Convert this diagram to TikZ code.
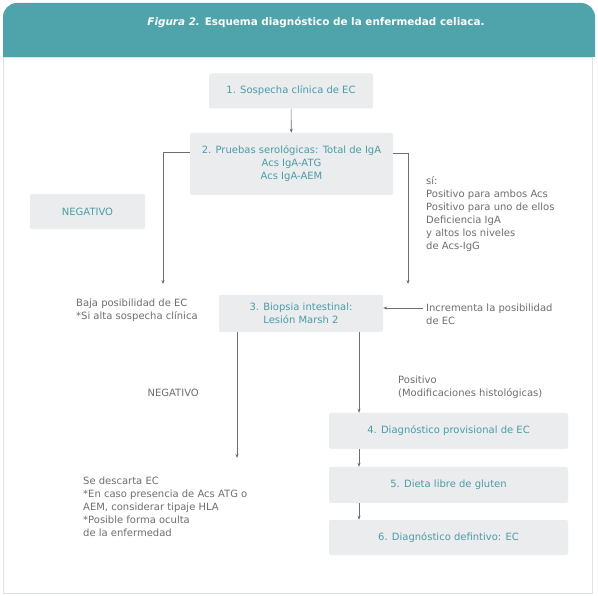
\documentclass[tikz,border=0pt]{standalone}
\usepackage{fontspec}
\setmainfont{DejaVu Sans}
\usepackage{tikz}
\usetikzlibrary{arrows.meta}
\definecolor{headteal}{rgb}{0.31, 0.64, 0.67}
\definecolor{boxgray}{rgb}{0.92, 0.925, 0.93}
\definecolor{boxtext}{rgb}{0.29, 0.61, 0.66}
\definecolor{txtgray}{rgb}{0.43, 0.43, 0.43}
\definecolor{framegray}{rgb}{0.86, 0.89, 0.90}

\begin{document}
\begin{tikzpicture}[x=1pt,y=-1pt]
\tikzstyle{every node}=[font=\fontsize{10}{13}\selectfont]
\tikzstyle{step box}=[fill=boxgray, rounded corners=2pt, text=boxtext, align=center, inner sep=0pt]
\tikzstyle{note}=[text=txtgray, align=left, inner sep=0pt, anchor=west]
\tikzstyle{arr}=[-{Stealth[length=4pt,width=3pt]}, txtgray, line width=0.6pt]
\useasboundingbox (0,0) rectangle (598,596);

% header and frame
    \fill[headteal] (3,57) [rounded corners=14pt] -- (3,3) -- (595,3) [sharp corners] -- (595,57) -- cycle;
    \draw[framegray, fill=white] (3,57) rectangle (592,593);
    \node[text=white, font=\fontsize{10.4}{12}\selectfont\bfseries] (title) at (316,22)
      {\textit{Figura 2.} Esquema diagnóstico de la enfermedad celiaca.};

% boxes
    \node[step box, minimum width=164, minimum height=35] (sospecha) at (291,91) {1. Sospecha clínica de EC};
    \node[step box, minimum width=203, minimum height=62] (serol) at (291.5,164)
      {2. Pruebas serológicas: Total de IgA\\Acs IgA-ATG\\Acs IgA-AEM};
    \node[step box, minimum width=115, minimum height=35] (negbox) at (87.5,211.5) {NEGATIVO};
    \node[step box, minimum width=164, minimum height=37] (biopsia) at (301,313.5)
      {3. Biopsia intestinal:\\Lesión Marsh 2};
    \node[step box, minimum width=239, minimum height=36] (provis) at (448.5,431) {4. Diagnóstico provisional de EC};
    \node[step box, minimum width=239, minimum height=36] (dieta) at (448.5,485) {5. Dieta libre de gluten};
    \node[step box, minimum width=239, minimum height=35] (defin) at (448.5,537.5) {6. Diagnóstico defintivo: EC};

% notes
    \node[note] (si) at (426,214.5) {sí:\\Positivo para ambos Acs\\Positivo para uno de ellos\\Deficiencia IgA\\y altos los niveles\\de Acs-IgG};
    \node[note] (baja) at (76,310.5) {Baja posibilidad de EC\\*Si alta sospecha clínica};
    \node[note] (incr) at (426,314.5) {Incrementa la posibilidad\\de EC};
    \node[note, anchor=east] (negtxt) at (199,393) {NEGATIVO};
    \node[note] (posit) at (398,387) {Positivo\\(Modificaciones histológicas)};
    \node[note] (descarta) at (83,507) {Se descarta EC\\*En caso presencia de Acs ATG o\\AEM, considerar tipaje HLA\\*Posible forma oculta\\de la enfermedad};

% arrows
    \coordinate (bajaend) at (163,284);
    \coordinate (siend) at (408,284);
    \coordinate (incrarr) at ([xshift=-3pt,yshift=6.5pt]incr.west);
    \coordinate (negend) at (237,458);
    \coordinate (posx) at (359,0);
    \draw[arr] (sospecha) -- (serol);
    \draw[arr] ([yshift=12pt]serol.west) -| (bajaend);
    \draw[arr] ([yshift=11pt]serol.east) -| (siend);
    \draw[arr] (incrarr) -- (incrarr -| biopsia.east);
    \draw[arr] (negend |- biopsia.south) -- (negend);
    \draw[arr] (posx |- biopsia.south) -- (posx |- provis.north);
    \draw[arr] (posx |- provis.south) -- (posx |- dieta.north);
    \draw[arr] (posx |- dieta.south) -- (posx |- defin.north);
\end{tikzpicture}
\end{document}
